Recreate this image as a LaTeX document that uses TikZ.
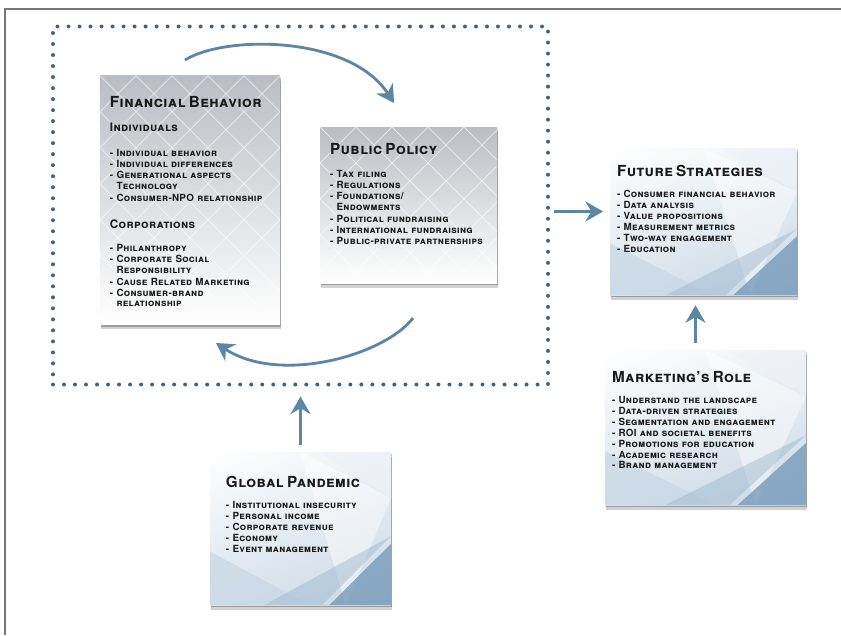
\documentclass[tikz,border=0pt]{standalone}
\usepackage{fontspec}
\setmainfont{TeX Gyre Heros}
\usetikzlibrary{arrows.meta,shadows,shadings,calc,positioning}

\definecolor{flowblue}{RGB}{92,134,166}
\definecolor{dotblue}{RGB}{62,100,130}
\definecolor{ice}{RGB}{200,216,230}
\definecolor{steel}{RGB}{112,150,182}
\definecolor{frost}{RGB}{238,242,246}
\definecolor{silver}{RGB}{186,190,196}
\definecolor{framegray}{RGB}{120,120,120}
\definecolor{ink}{RGB}{25,25,25}

\newcommand{\cardtitle}[1]{{\fontsize{13}{14}\selectfont #1}}
\newcommand{\cardsub}[1]{{\fontsize{10}{11}\selectfont #1}}

\tikzset{
  card/.style={rectangle, inner sep=0pt,
    drop shadow={shadow xshift=1pt, shadow yshift=-4pt, opacity=0.18, fill=black},
    drop shadow={shadow xshift=0.5pt, shadow yshift=-2pt, opacity=0.25, fill=black}},
  silvercard/.style={card, top color=silver, middle color=white!80!silver, bottom color=white,
    path picture={
      \foreach \i in {-9,...,9} {
        \draw[white, opacity=0.55, line width=0.8pt]
          ([shift={(\i*36,0)}]path picture bounding box.north west) -- ++(260,260);
        \draw[white, opacity=0.55, line width=0.8pt]
          ([shift={(\i*36,0)}]path picture bounding box.north west) -- ++(-260,260);
      }
    }},
  bluecard/.style={card, upper left=white, upper right=frost, lower left=ice!70, lower right=ice,
    path picture={
      \coordinate (nw) at (path picture bounding box.north west);
      \coordinate (ne) at (path picture bounding box.north east);
      \coordinate (sw) at (path picture bounding box.south west);
      \coordinate (se) at (path picture bounding box.south east);
      \fill[white, opacity=0.45] ($(nw)!0.5!(ne)$) -- ($(sw)!0.75!(se)$) -- ($(se)!0.7!(ne)$) -- cycle;
      \fill[frost, opacity=0.6] (ne) -- ($(se)!0.7!(ne)$) -- ($(nw)!0.6!(ne)$) -- cycle;
      \fill[ice, opacity=0.7] (sw) -- ($(sw)!0.35!(nw)$) -- ($(sw)!0.55!(se)$) -- cycle;
      \fill[steel!70, opacity=0.45] ($(sw)!0.3!(se)$) -- ($(sw)!0.62!(se)$) -- ($(se)!0.45!(ne)$) -- cycle;
      \fill[steel, opacity=0.75] ($(sw)!0.66!(se)$) -- ($(se)!0.4!(ne)$) -- (se) -- cycle;
    }},
  cardtext/.style={anchor=north west, align=left, inner sep=0pt, text width=6cm, text=ink,
    font=\bfseries\scshape\fontsize{8.4}{9.3}\selectfont\addfontfeature{LetterSpace=3}},
  loopbox/.style={rectangle, draw=dotblue, line width=3.4pt, line cap=round,
    dash pattern=on 0pt off 9.4pt},
  flow/.style={draw=flowblue, line width=2.4pt,
    -{Stealth[length=15pt, width=17pt, inset=5pt]}},
}

\begin{document}
\begin{tikzpicture}[x=0.03cm, y=-0.03cm]
  \useasboundingbox (0,0) rectangle (841,635);

  % page frame
  \draw[framegray, line width=1.6pt] (5,635) -- (5,9) -- (841,9);

  % dotted loop round behaviour and policy
  \node[loopbox, minimum width=14.85cm, minimum height=10.74cm] (loop) at (300.5,205.5) {};

  % cards
  \node[silvercard, minimum width=5.4cm, minimum height=7.45cm] (fin) at (190,200) {};
  \node[silvercard, minimum width=5.31cm, minimum height=4.68cm] (policy) at (408.5,205) {};
  \node[bluecard, minimum width=5.61cm, minimum height=4.41cm] (future) at (703.5,221.5) {};
  \node[bluecard, minimum width=6.03cm, minimum height=4.65cm] (marketing) at (705.5,427.5) {};
  \node[bluecard, minimum width=5.43cm, minimum height=4.59cm] (pandemic) at (300.5,528.5) {};

  % card texts
  \node[cardtext] (fintext) at ([shift={(10,21)}]fin.north west) {%
    \cardtitle{Financial Behavior}\\[11pt]
    \cardsub{Individuals}\\[12pt]
    - Individual behavior\\
    - Individual differences\\
    - Generational aspects\\
    \phantom{- }Technology\\[1pt]
    - Consumer-NPO relationship\\[14pt]
    \cardsub{Corporations}\\[10pt]
    - Philanthropy\\
    - Corporate Social\\
    \phantom{- }Responsibility\\[1pt]
    - Cause Related Marketing\\
    - Consumer-brand\\
    \phantom{- }relationship};
  \node[cardtext] (policytext) at ([shift={(10,16)}]policy.north west) {%
    \cardtitle{Public Policy}\\[11pt]
    - Tax filing\\
    - Regulations\\
    - Foundations/\\
    \phantom{- }Endowments\\[1pt]
    - Political fundraising\\
    - International fundraising\\
    - Public-private partnerships};
  \node[cardtext] (futuretext) at ([shift={(7,17)}]future.north west) {%
    \cardtitle{Future Strategies}\\[9pt]
    - Consumer financial behavior\\
    - Data analysis\\
    - Value propositions\\
    - Measurement metrics\\
    - Two-way engagement\\
    - Education};
  \node[cardtext] (marketingtext) at ([shift={(7,21)}]marketing.north west) {%
    \cardtitle{Marketing's Role}\\[9pt]
    - Understand the landscape\\
    - Data-driven strategies\\
    - Segmentation and engagement\\
    - ROI and societal benefits\\
    - Promotions for education\\
    - Academic research\\
    - Brand management};
  \node[cardtext] (pandemictext) at ([shift={(16,24)}]pandemic.north west) {%
    \cardtitle{Global Pandemic}\\[9pt]
    - Institutional insecurity\\
    - Personal income\\
    - Corporate revenue\\
    - Economy\\
    - Event management};

  % loop arrows
  \coordinate (topstart) at (185,60);
  \coordinate (topend) at (394,103);
  \coordinate (botstart) at (413,318);
  \coordinate (botend) at (216,343);
  \draw[flow] (topstart) .. controls (225,35) and (350,35) .. (topend);
  \draw[flow] (botstart) .. controls (385,355) and (280,385) .. (botend);

  % connectors
  \draw[flow, shorten <=0.12cm, shorten >=0.2cm]
    ([yshift=-0.18cm]loop.east) -- ([yshift=-0.18cm]loop.east -| future.west);
  \draw[flow, shorten <=0.21cm, shorten >=0.3cm]
    ([xshift=-0.3cm]marketing.north) -- ([xshift=-0.3cm]marketing.north |- future.south);
  \draw[flow, shorten <=0.2cm, shorten >=0.3cm]
    (pandemic.north) -- (pandemic.north |- loop.south);
\end{tikzpicture}
\end{document}
